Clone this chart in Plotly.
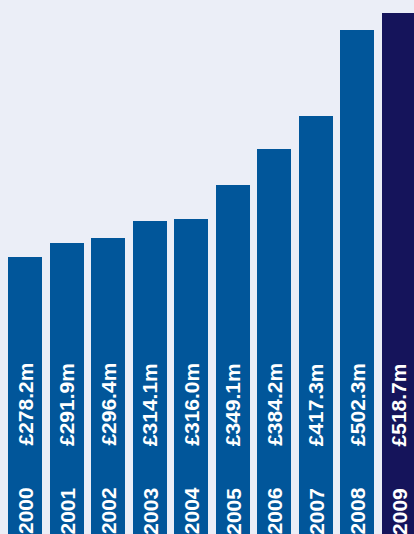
import plotly.graph_objects as go

years = ["2000", "2001", "2002", "2003", "2004", "2005", "2006", "2007", "2008", "2009"]
values = [278.2, 291.9, 296.4, 314.1, 316.0, 349.1, 384.2, 417.3, 502.3, 518.7]

BLUE = "#01569A"
NAVY = "#15145B"
BG = "#EBEEF7"

colors = [BLUE] * (len(years) - 1) + [NAVY]
xs = list(range(len(years)))

fig = go.Figure()
fig.add_trace(go.Bar(
    x=xs, y=values, width=0.818,
    marker=dict(color=colors, line=dict(width=0)),
    hoverinfo="skip",
))

font = dict(family="Liberation Sans, Arial, sans-serif", size=21, color="white")
annotations = []
for i, (yr, v) in enumerate(zip(years, values)):
    annotations.append(dict(
        x=i, xref="x", y=0, yref="paper", yshift=23,
        text=f"<b>{yr}</b>", textangle=-90, showarrow=False,
        xanchor="center", yanchor="middle", font=font,
    ))
    annotations.append(dict(
        x=i, xref="x", y=0, yref="paper", yshift=129.5,
        text=f"<b>£{v:.1f}m</b>", textangle=-90, showarrow=False,
        xanchor="center", yanchor="middle", font=font,
    ))

fig.update_layout(
    width=414, height=534,
    margin=dict(l=0, r=0, t=0, b=0),
    paper_bgcolor=BG, plot_bgcolor=BG,
    showlegend=False,
    bargap=0,
    xaxis=dict(range=[-0.6017, 9.362], visible=False, fixedrange=True),
    yaxis=dict(range=[5.1, 531.5], visible=False, fixedrange=True),
    annotations=annotations,
)

fig.write_html(
    "out.html",
    config={"displayModeBar": False},
    post_script="document.body.style.margin='0';document.body.style.overflow='hidden';document.body.style.background='#EBEEF7';",
)
